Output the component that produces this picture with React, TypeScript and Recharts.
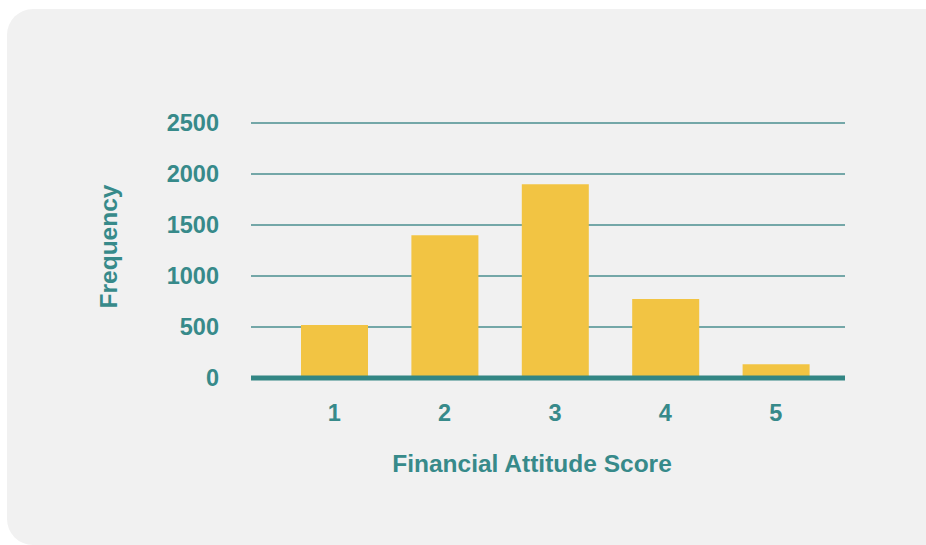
import React from "react";
import { BarChart, Bar, XAxis, YAxis, CartesianGrid, Label } from "recharts";

const scores = ["1", "2", "3", "4", "5"];
const frequencies = [520, 1400, 1900, 775, 135];
const yTicks = [0, 500, 1000, 1500, 2000, 2500];

const data = scores.map((s, i) => ({ score: s, frequency: frequencies[i] }));

const TEAL = "#378a8a";
const AXIS = "#338684";
const GRID = "#4a8e8f";
const BAR = "#F2C443";
const FONT = "'Liberation Sans', Arial, sans-serif";

export default function App() {
  const tickStyle = { fill: TEAL, fontSize: 23.5, fontWeight: 700, fontFamily: FONT };
  const titleStyle = { fill: TEAL, fontSize: 24.5, fontWeight: 700, fontFamily: FONT };
  return (
    <div style={{ position: "fixed", left: 0, top: 0, width: 926, height: 545, background: "#ffffff", overflow: "hidden" }}>
      <div
        style={{
          position: "absolute",
          left: 7,
          top: 9,
          width: 960,
          height: 536,
          background: "#f1f1f1",
          borderRadius: 26,
        }}
      />
      <div style={{ position: "absolute", left: 0, top: 0 }}>
        <BarChart
          width={926}
          height={545}
          data={data}
          margin={{ top: 123, right: 81, left: 0, bottom: 0 }}
          barCategoryGap={0}
        >
          <CartesianGrid vertical={false} stroke={GRID} strokeWidth={1.3} />
          <XAxis
            dataKey="score"
            height={167}
            padding={{ left: 28, right: 14 }}
            axisLine={{ stroke: AXIS, strokeWidth: 5 }}
            tickLine={false}
            tickSize={0}
            tickMargin={26}
            tick={tickStyle}
          >
            <Label
              value="Financial Attitude Score"
              position="insideTop"
              offset={77}
              dx={-16}
              style={titleStyle}
            />
          </XAxis>
          <YAxis
            width={251}
            domain={[0, 2500]}
            ticks={yTicks}
            axisLine={false}
            tickLine={false}
            tickSize={0}
            tickMargin={32}
            tick={tickStyle}
          >
            <Label
              value="Frequency"
              position="insideLeft"
              angle={-90}
              offset={108}
              dy={-4}
              textAnchor="middle"
              style={{ ...titleStyle, textAnchor: "middle" }}
            />
          </YAxis>
          <Bar dataKey="frequency" fill={BAR} barSize={67} isAnimationActive={false} />
        </BarChart>
      </div>
    </div>
  );
}
